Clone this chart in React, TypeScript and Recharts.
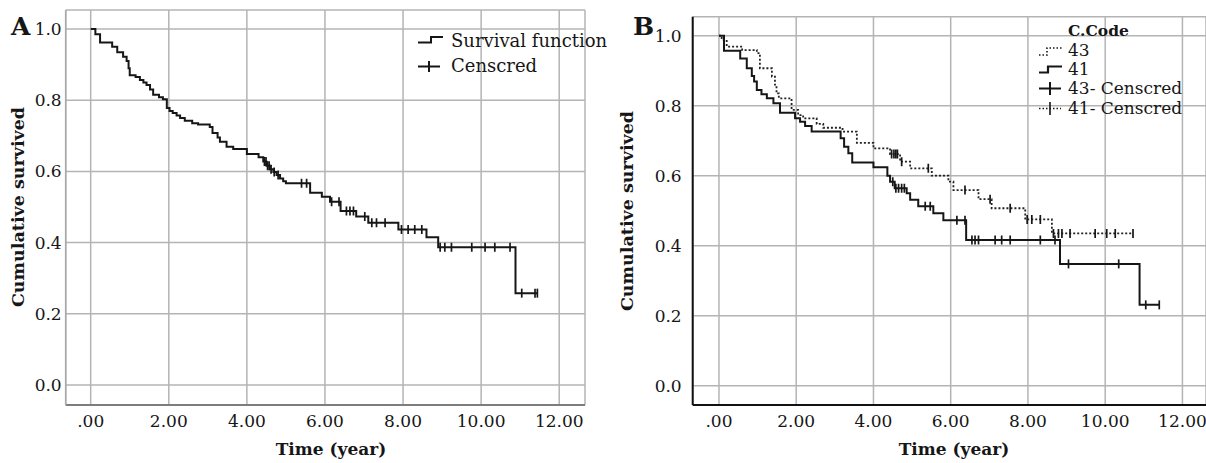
import { CartesianGrid, ComposedChart, Line, XAxis, YAxis } from 'recharts'

// shared axes
const xTicks = [0, 2, 4, 6, 8, 10, 12]
const yTicks = [0, 0.2, 0.4, 0.6, 0.8, 1.0]

// panel A: all cases
const allEventTimes = [0, 0.12, 0.24, 0.55, 0.68, 0.83, 0.92, 0.97, 1.0, 1.15, 1.26, 1.35, 1.43, 1.52, 1.6, 1.75, 1.85, 1.95, 2.02, 2.1, 2.2, 2.29, 2.41, 2.6, 2.75, 3.05, 3.12, 3.25, 3.31, 3.48, 3.65, 4.0, 4.3, 4.42, 4.5, 4.59, 4.68, 4.76, 4.85, 4.93, 5.0, 5.62, 5.92, 6.13, 6.4, 6.8, 7.11, 7.88, 8.6, 8.9, 10.88]
const allEventSurv = [1.0, 0.985, 0.962, 0.95, 0.935, 0.922, 0.91, 0.89, 0.87, 0.865, 0.857, 0.85, 0.843, 0.83, 0.815, 0.808, 0.803, 0.778, 0.77, 0.764, 0.757, 0.75, 0.742, 0.735, 0.732, 0.725, 0.708, 0.695, 0.683, 0.669, 0.663, 0.649, 0.64, 0.628, 0.616, 0.606, 0.598, 0.59, 0.58, 0.572, 0.567, 0.54, 0.529, 0.515, 0.489, 0.473, 0.456, 0.437, 0.415, 0.387, 0.258]
const allCensorTimes = [4.45, 4.49, 4.53, 4.57, 4.62, 4.7, 4.8, 5.4, 5.53, 6.17, 6.36, 6.55, 6.64, 6.73, 7.02, 7.2, 7.32, 7.54, 7.96, 8.13, 8.3, 8.48, 8.95, 9.07, 9.24, 9.76, 10.1, 10.35, 10.74, 11.04, 11.38, 11.44]

// panel B: C.Code 41 (solid)
const code41EventTimes = [0, 0.13, 0.55, 0.72, 0.85, 0.91, 0.98, 1.1, 1.24, 1.41, 1.58, 1.97, 2.1, 2.23, 2.4, 3.15, 3.24, 3.35, 3.45, 4.0, 4.36, 4.43, 4.55, 4.86, 4.95, 5.16, 5.55, 5.81, 6.4, 8.83, 10.89]
const code41EventSurv = [1.0, 0.957, 0.935, 0.907, 0.885, 0.869, 0.845, 0.833, 0.821, 0.807, 0.78, 0.764, 0.754, 0.742, 0.726, 0.707, 0.683, 0.664, 0.638, 0.624, 0.6, 0.583, 0.564, 0.55, 0.531, 0.513, 0.493, 0.473, 0.416, 0.348, 0.231]
const code41CensorTimes = [4.5, 4.58, 4.65, 4.73, 4.8, 5.34, 5.47, 6.16, 6.37, 6.55, 6.63, 6.72, 7.15, 7.32, 7.54, 8.32, 8.7, 9.05, 10.35, 11.05, 11.4]

// panel B: C.Code 43 (dotted)
const code43EventTimes = [0, 0.07, 0.2, 0.6, 0.98, 1.06, 1.37, 1.45, 1.49, 1.55, 1.88, 2.05, 2.18, 2.53, 2.7, 3.2, 3.57, 4.0, 4.43, 4.69, 4.95, 5.51, 5.94, 6.07, 6.72, 7.06, 7.93, 8.62]
const code43EventSurv = [1.0, 0.988, 0.969, 0.959, 0.95, 0.907, 0.883, 0.86, 0.835, 0.821, 0.788, 0.773, 0.764, 0.748, 0.737, 0.726, 0.694, 0.678, 0.662, 0.64, 0.621, 0.6, 0.583, 0.559, 0.533, 0.507, 0.475, 0.435]
const code43CensorTimes = [4.47, 4.53, 4.58, 4.62, 4.73, 5.42, 6.37, 7.02, 7.54, 7.98, 8.1, 8.32, 8.66, 8.79, 8.88, 9.09, 9.74, 10.04, 10.26, 10.72]

type Pt = { t: number; s: number; c: boolean }

// merge event steps and censored times into one step series
function buildCurve(times: number[], surv: number[], censored: number[]): Pt[] {
	const pts: Pt[] = times.map((t, i) => ({ t, s: surv[i], c: false }))
	for (const ct of censored) {
		let s = surv[0]
		times.forEach((t, i) => {
			if (t <= ct) s = surv[i]
		})
		pts.push({ t: ct, s, c: true })
	}
	return pts.sort((a, b) => a.t - b.t)
}

const curveAll = buildCurve(allEventTimes, allEventSurv, allCensorTimes)
const curve41 = buildCurve(code41EventTimes, code41EventSurv, code41CensorTimes)
const curve43 = buildCurve(code43EventTimes, code43EventSurv, code43CensorTimes)

const FONT = '"DejaVu Serif", serif'
const INK = '#161616'

const fmtX = (v: number) => (v === 0 ? '.00' : v.toFixed(2))
const fmtY = (v: number) => v.toFixed(1)

function censorDot(props: any) {
	const { cx, cy, payload, index } = props
	if (!payload?.c || cx == null || cy == null) return <g key={`n${index}`} />
	return <path key={`c${index}`} d={`M${cx},${cy - 4.5}V${cy + 4.5}`} stroke={INK} strokeWidth={1.7} />
}

const tickStyle = { fill: INK, fontSize: 17, fontFamily: FONT }

function PanelA() {
	return (
		<ComposedChart width={603} height={463} margin={{ top: 10, right: 18, bottom: 0, left: 0 }}>
			<CartesianGrid stroke='#b4b4b4' strokeWidth={1.5} />
			<XAxis
				dataKey='t'
				type='number'
				domain={[-0.64, 12.66]}
				ticks={xTicks}
				allowDataOverflow
				height={58}
				tickSize={0}
				tickMargin={10}
				tickLine={false}
				tickFormatter={fmtX}
				tick={tickStyle}
				axisLine={{ stroke: '#7d7d7d', strokeWidth: 2 }}
			/>
			<YAxis
				type='number'
				domain={[-0.0562, 1.0534]}
				ticks={yTicks}
				allowDataOverflow
				width={65.7}
				tickSize={0}
				tickMargin={4}
				tickLine={false}
				tickFormatter={fmtY}
				tick={tickStyle}
				axisLine={{ stroke: '#a8a8a8', strokeWidth: 1.5 }}
			/>
			<Line
				data={curveAll}
				dataKey='s'
				type='stepAfter'
				stroke={INK}
				strokeWidth={2}
				dot={censorDot}
				activeDot={false}
				isAnimationActive={false}
			/>
		</ComposedChart>
	)
}

function PanelB() {
	return (
		<ComposedChart width={603} height={463} margin={{ top: 16.7, right: 0, bottom: 0, left: 0 }}>
			<CartesianGrid stroke='#b4b4b4' strokeWidth={1.5} />
			<XAxis
				dataKey='t'
				type='number'
				domain={[-0.68, 12.61]}
				ticks={xTicks}
				allowDataOverflow
				height={58}
				tickSize={0}
				tickMargin={10}
				tickLine={false}
				tickFormatter={fmtX}
				tick={tickStyle}
				axisLine={{ stroke: '#111', strokeWidth: 2 }}
			/>
			<YAxis
				type='number'
				domain={[-0.0551, 1.0543]}
				ticks={yTicks}
				allowDataOverflow
				width={89.7}
				tickSize={0}
				tickMargin={11}
				tickLine={false}
				tickFormatter={fmtY}
				tick={tickStyle}
				axisLine={{ stroke: '#111', strokeWidth: 2 }}
			/>
			<Line
				data={curve43}
				dataKey='s'
				type='stepAfter'
				stroke='#222'
				strokeWidth={1.8}
				strokeDasharray='2 2'
				dot={censorDot}
				activeDot={false}
				isAnimationActive={false}
			/>
			<Line
				data={curve41}
				dataKey='s'
				type='stepAfter'
				stroke={INK}
				strokeWidth={2}
				dot={censorDot}
				activeDot={false}
				isAnimationActive={false}
			/>
		</ComposedChart>
	)
}

function Overlay() {
	const txt = { fontFamily: FONT, fill: INK }
	return (
		<svg width={1206} height={463} style={{ position: 'absolute', left: 0, top: 0, pointerEvents: 'none' }}>
			{/* panel letters */}
			<text x={11} y={35} fontSize={25} fontWeight='bold' {...txt}>A</text>
			<text x={633} y={35} fontSize={25} fontWeight='bold' {...txt}>B</text>

			{/* axis titles */}
			<text x={18} y={207} fontSize={17.5} fontWeight='bold' textAnchor='middle' dominantBaseline='central' transform='rotate(-90 18 207)' {...txt}>Cumulative survived</text>
			<text x={627} y={211} fontSize={17.5} fontWeight='bold' textAnchor='middle' dominantBaseline='central' transform='rotate(-90 627 211)' {...txt}>Cumulative survived</text>
			<text x={331} y={455} fontSize={17} fontWeight='bold' textAnchor='middle' {...txt}>Time (year)</text>
			<text x={954} y={455} fontSize={17} fontWeight='bold' textAnchor='middle' {...txt}>Time (year)</text>

			{/* legend A */}
			<path d='M418,42.5H431V37H443' stroke={INK} strokeWidth={2} fill='none' />
			<path d='M418,66.5H440M429,61V72' stroke={INK} strokeWidth={2} fill='none' />
			<text x={451} y={40} fontSize={18} dominantBaseline='central' {...txt}>Survival function</text>
			<text x={451} y={65} fontSize={18} dominantBaseline='central' {...txt}>Censcred</text>

			{/* legend B */}
			<text x={1068} y={30} fontSize={15.5} fontWeight='bold' dominantBaseline='central' {...txt}>C.Code</text>
			<path d='M1039,55H1047V48H1063' stroke={INK} strokeWidth={1.6} strokeDasharray='1.5 2' fill='none' />
			<path d='M1039,72.5H1048V66.5H1062' stroke={INK} strokeWidth={2.2} fill='none' />
			<path d='M1039,88.5H1061M1050,82V95' stroke={INK} strokeWidth={2} fill='none' />
			<path d='M1039,108.5H1061' stroke={INK} strokeWidth={1.6} strokeDasharray='1.5 2' fill='none' />
			<path d='M1050,102V115' stroke={INK} strokeWidth={1.6} fill='none' />
			<text x={1068} y={50} fontSize={17} dominantBaseline='central' {...txt}>43</text>
			<text x={1068} y={69} fontSize={17} dominantBaseline='central' {...txt}>41</text>
			<text x={1068} y={88} fontSize={17} dominantBaseline='central' {...txt}>43- Censcred</text>
			<text x={1068} y={108} fontSize={17} dominantBaseline='central' {...txt}>41- Censcred</text>
		</svg>
	)
}

export default function App() {
	return (
		<div style={{ position: 'absolute', left: 0, top: 0, width: 1206, height: 463, background: '#fff', overflow: 'hidden' }}>
			<div style={{ position: 'absolute', left: 0, top: 0 }}>
				<PanelA />
			</div>
			<div style={{ position: 'absolute', left: 603, top: 0 }}>
				<PanelB />
			</div>
			<Overlay />
		</div>
	)
}
